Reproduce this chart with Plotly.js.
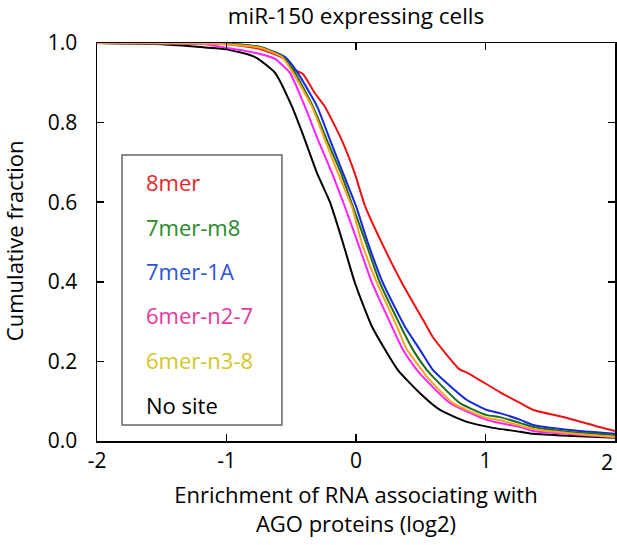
<!DOCTYPE html>
<html>
<head>
<meta charset="utf-8">
<script src="https://cdn.plot.ly/plotly-3.0.1.min.js"></script>
<style>html,body{margin:0;padding:0;background:#fff;}</style>
</head>
<body>
<div id="chart" style="width:617px;height:545px;"></div>
<script>
// ---- data ----
const seriesNames = ['8mer', '7mer-m8', '7mer-1A', '6mer-n2-7', '6mer-n3-8', 'No site'];

const x8mer = [-2, -1.5, -1.0, -0.74, -0.55, -0.49, -0.41, -0.32, -0.24, -0.11, -0.01, 0.07, 0.20, 0.355, 0.548, 0.595, 0.80, 0.857, 1.11, 1.27, 1.37, 1.63, 1.88, 2.0];
const y8mer = [1.0, 0.999, 0.997, 0.985, 0.96, 0.935, 0.922, 0.875, 0.84, 0.756, 0.673, 0.59, 0.497, 0.397, 0.287, 0.26, 0.18, 0.172, 0.123, 0.095, 0.078, 0.058, 0.035, 0.025];

const x7m8 = [-2, -1.2, -1.0, -0.74, -0.564, -0.471, -0.332, -0.224, -0.116, -0.023, 0.077, 0.185, 0.347, 0.44, 0.548, 0.595, 0.803, 1.01, 1.11, 1.27, 1.37, 1.63, 2.0];
const y7m8 = [1.0, 0.999, 0.998, 0.99, 0.965, 0.925, 0.84, 0.756, 0.673, 0.588, 0.497, 0.397, 0.287, 0.229, 0.178, 0.161, 0.095, 0.065, 0.06, 0.045, 0.035, 0.023, 0.015];

const x7a1 = [-2, -1.2, -1.0, -0.74, -0.55, -0.45, -0.30, -0.20, -0.10, 0.0, 0.093, 0.208, 0.378, 0.494, 0.595, 0.649, 0.857, 1.01, 1.11, 1.27, 1.37, 1.63, 2.0];
const y7a1 = [1.0, 0.999, 0.998, 0.99, 0.965, 0.925, 0.84, 0.756, 0.673, 0.59, 0.497, 0.397, 0.287, 0.229, 0.178, 0.161, 0.103, 0.078, 0.07, 0.053, 0.04, 0.028, 0.018];

const x6n27 = [-2, -1.2, -1.0, -0.82, -0.69, -0.625, -0.51, -0.394, -0.293, -0.185, -0.085, 0.015, 0.124, 0.278, 0.363, 0.471, 0.517, 0.726, 1.01, 1.11, 1.27, 1.37, 2.0];
const y6n27 = [1.0, 0.998, 0.988, 0.978, 0.968, 0.96, 0.925, 0.84, 0.756, 0.673, 0.588, 0.497, 0.397, 0.287, 0.229, 0.178, 0.161, 0.095, 0.053, 0.045, 0.035, 0.025, 0.01];

const x6n38 = [-2, -1.2, -1.0, -0.74, -0.571, -0.486, -0.340, -0.239, -0.139, -0.031, 0.046, 0.162, 0.317, 0.394, 0.51, 0.548, 0.749, 1.01, 1.11, 1.27, 1.37, 1.63, 2.0];
const y6n38 = [1.0, 0.999, 0.997, 0.988, 0.965, 0.925, 0.84, 0.756, 0.673, 0.588, 0.497, 0.397, 0.287, 0.229, 0.178, 0.161, 0.095, 0.058, 0.053, 0.038, 0.03, 0.02, 0.01];

const xNone = [-2, -1.5, -1.2, -1.0, -0.82, -0.764, -0.625, -0.494, -0.394, -0.301, -0.201, -0.10, -0.008, 0.124, 0.324, 0.494, 0.649, 0.857, 1.058, 1.27, 1.37, 1.63, 2.0];
const yNone = [1.0, 0.997, 0.99, 0.984, 0.97, 0.962, 0.925, 0.84, 0.756, 0.673, 0.60, 0.497, 0.397, 0.287, 0.178, 0.12, 0.078, 0.048, 0.033, 0.023, 0.018, 0.013, 0.008];

const xTickVals = [-2, -1, 0, 1, 2];
const xTickText = ['-2', '-1', '0', '1', '2'];
const yTickVals = [0, 0.2, 0.4, 0.6, 0.8, 1.0];
const yTickText = ['0.0', '0.2', '0.4', '0.6', '0.8', '1.0'];

const titleText = 'miR-150 expressing cells';
const xTitleText = 'Enrichment of RNA associating with<br>AGO proteins (log2)';
const yTitleText = 'Cumulative fraction';

// ---- styles ----
const FONT = '"Open Sans", Lato, sans-serif';
const lineColors = ['#ee1111', '#1a6e1a', '#1428e0', '#ff22ff', '#ffa21e', '#000000'];
const textColors = ['#e8262a', '#2a8a2a', '#2a55d8', '#e8389c', '#d4c62a', '#000000'];
const xs = [x8mer, x7m8, x7a1, x6n27, x6n38, xNone];
const ys = [y8mer, y7m8, y7a1, y6n27, y6n38, yNone];
const drawOrder = [0, 5, 2, 1, 3, 4];

const traces = drawOrder.map(i => ({
  type: 'scatter', mode: 'lines', name: seriesNames[i],
  x: xs[i], y: ys[i],
  line: {color: lineColors[i], width: 2, shape: 'spline', smoothing: 0.5},
  hoverinfo: 'skip', showlegend: false
}));

// legend as box + coloured text
const legendY = [0.651, 0.538, 0.427, 0.317, 0.2035, 0.0905];
const annotations = seriesNames.map((n, i) => ({
  text: n, xref: 'paper', yref: 'paper', x: 0.0907, y: legendY[i],
  xanchor: 'left', yanchor: 'middle', showarrow: false,
  font: {family: FONT, size: 22, color: textColors[i]}
}));

// last x tick label sits flush with the right edge, as in the reference
const lastTick = xTickVals.length - 1;
annotations.push({
  text: xTickText[lastTick], xref: 'x', yref: 'paper', x: xTickVals[lastTick], y: 0,
  xanchor: 'right', yanchor: 'top', yshift: -5, showarrow: false,
  font: {family: FONT, size: 21, color: '#000'}
});
// y-axis title placed at the reference position
annotations.push({
  text: yTitleText, xref: 'paper', yref: 'paper', x: -0.16, y: 0.5025,
  xanchor: 'center', yanchor: 'middle', textangle: -90, showarrow: false,
  font: {family: FONT, size: 22, color: '#000'}
});

const axisCommon = {
  showline: true, linecolor: '#000', linewidth: 1.5, mirror: 'ticks',
  ticks: 'inside', ticklen: 7, tickwidth: 1.5, tickcolor: '#000',
  showgrid: false, zeroline: false, fixedrange: true,
  tickfont: {family: FONT, size: 21, color: '#000'}
};

const layout = {
  width: 617, height: 545,
  margin: {l: 97, r: 2, t: 43, b: 104},
  paper_bgcolor: '#fff', plot_bgcolor: '#fff',
  showlegend: false,
  title: {text: titleText, x: 0.5, xref: 'paper', xanchor: 'center',
          y: 1 - 16/545, yref: 'container', yanchor: 'middle',
          font: {family: FONT, size: 22.5, color: '#000'}},
  xaxis: Object.assign({}, axisCommon, {
    range: [-2, 2], tickmode: 'array', tickvals: xTickVals,
    ticktext: xTickText.map((t, i) => i === lastTick ? '' : t),
    ticklabelstandoff: 0,
    title: {text: xTitleText, standoff: 15,
            font: {family: FONT, size: 22, color: '#000'}}
  }),
  yaxis: Object.assign({}, axisCommon, {
    range: [0, 1], tickmode: 'array', tickvals: yTickVals, ticktext: yTickText,
    ticklabelstandoff: 14,
    title: {text: ''}
  }),
  shapes: [{type: 'rect', xref: 'paper', yref: 'paper', x0: 0.0483, x1: 0.357, y0: 0.0402, y1: 0.7186,
            line: {color: '#666', width: 1.5}, fillcolor: 'rgba(0,0,0,0)', layer: 'above'}],
  annotations: annotations
};

Plotly.newPlot('chart', traces, layout, {displayModeBar: false, staticPlot: true});
</script>
</body>
</html>
